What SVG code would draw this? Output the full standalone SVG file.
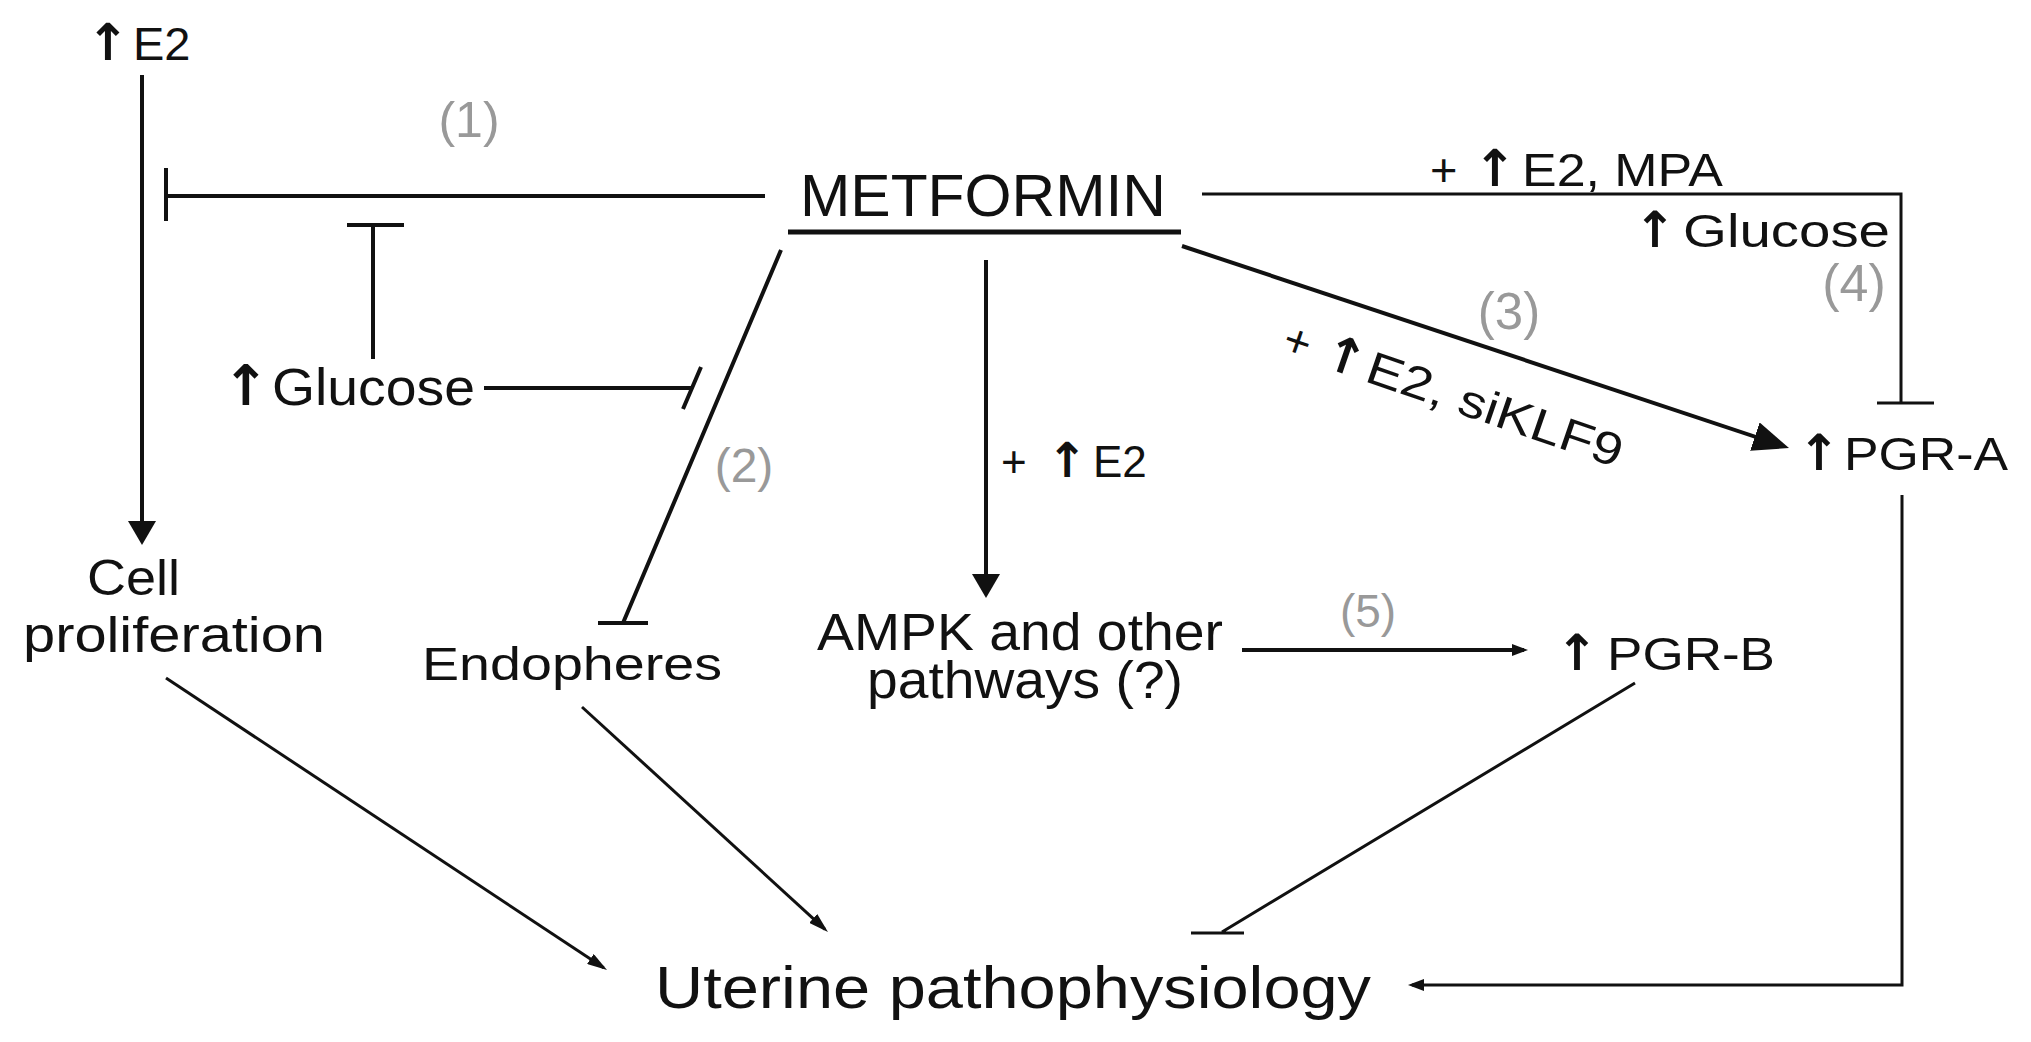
<svg xmlns="http://www.w3.org/2000/svg" width="2031" height="1042" viewBox="0 0 2031 1042">
<style>
text{font-family:"Liberation Sans",Arial,sans-serif;fill:#111}
.up{font-family:"DejaVu Sans",sans-serif;font-weight:bold;text-anchor:middle}
.num{fill:#999;text-anchor:middle}
.ln{fill:none;stroke:#111;stroke-width:4}
.th{fill:none;stroke:#111;stroke-width:3}
</style>
<defs>
<marker id="aBig" markerUnits="userSpaceOnUse" markerWidth="24" markerHeight="28" refX="18" refY="14" orient="auto"><path d="M0,0 L24,14 L0,28 z" fill="#111"/></marker>
<marker id="a3" markerUnits="userSpaceOnUse" markerWidth="36" markerHeight="30" refX="30" refY="15" orient="auto"><path d="M0,0 L36,15 L0,30 z" fill="#111"/></marker>
<marker id="aSm" markerUnits="userSpaceOnUse" markerWidth="16" markerHeight="12" refX="12" refY="6" orient="auto"><path d="M0,0 L16,6 L0,12 z" fill="#111"/></marker>
<marker id="aTh" markerUnits="userSpaceOnUse" markerWidth="20" markerHeight="12" refX="16" refY="6" orient="auto"><path d="M0,0 L20,6 L0,12 z" fill="#111"/></marker>
</defs>
<rect width="2031" height="1042" fill="#fff"/>

<g id="connectors">
<path class="ln" d="M142 75 V539" marker-end="url(#aBig)"/>
<path class="ln" d="M765 196 H166 M166 168 V221"/>
<path class="ln" d="M373 359 V225 M347 225 H404"/>
<path class="ln" d="M484 388 H692 M701 367 L683 409"/>
<path class="ln" d="M781 250 L623 623 M598 623 H648"/>
<path class="ln" d="M986 260 V592" marker-end="url(#aBig)"/>
<path class="th" d="M1202 194 H1901 V403 M1877 403 H1934"/>
<path class="ln" d="M1182 246 L1783.3 446.1" stroke-width="5" marker-end="url(#a3)"/>
<path class="th" d="M1902 495 V985 H1412" marker-end="url(#aSm)"/>
<path class="ln" d="M1242 650 H1524" marker-end="url(#aSm)"/>
<path class="th" d="M1635 683 L1222 932 M1191 933 H1244"/>
<path class="th" d="M166 678 L603.7 967.8" marker-end="url(#aTh)"/>
<path class="th" d="M582 707 L825 929.3" marker-end="url(#aTh)"/>
</g>

<g id="labels">
<text class="num" x="469" y="137" font-size="50">(1)</text>
<text class="num" x="744" y="482" font-size="48">(2)</text>
<text class="num" x="1509" y="329" font-size="51">(3)</text>
<text class="num" x="1854" y="301" font-size="52">(4)</text>
<text class="num" x="1368" y="627" font-size="46">(5)</text>
<g id="label-e2-ampk"><text font-size="44" x="1001" y="477">+</text><text class="up" font-size="48" x="1067" y="477">↑</text><text font-size="44" x="1093" y="477">E2</text></g>
<g id="label-e2-mpa"><text font-size="47" x="1430" y="186">+</text><text class="up" font-size="51" x="1495" y="186">↑</text><text font-size="47" x="1522" y="186" textLength="201" lengthAdjust="spacingAndGlyphs">E2, MPA</text></g>
<g id="label-glucose-right"><text class="up" font-size="50" x="1655" y="247">↑</text><text font-size="46" x="1683" y="247" textLength="207" lengthAdjust="spacingAndGlyphs">Glucose</text></g>
<g id="label-siklf9" transform="translate(1280 352) rotate(19)"><text font-size="46" x="0" y="0">+</text><text class="up" font-size="50" x="63" y="0">↑</text><text font-size="46" x="88" y="0" textLength="268" lengthAdjust="spacingAndGlyphs">E2, siKLF9</text></g>
</g>

<g id="node-e2"><text class="up" font-size="51" x="108" y="60">↑</text><text font-size="47" x="133" y="60">E2</text></g>
<g id="node-metformin"><text font-size="60" x="800" y="216" textLength="366" lengthAdjust="spacingAndGlyphs">METFORMIN</text><path d="M788 232 H1181" stroke="#111" stroke-width="5"/></g>
<g id="node-glucose"><text class="up" font-size="56" x="246" y="405">↑</text><text font-size="52" x="272" y="405" textLength="203" lengthAdjust="spacingAndGlyphs">Glucose</text></g>
<g id="node-cell"><text font-size="50"><tspan x="87" y="595" textLength="93" lengthAdjust="spacingAndGlyphs">Cell</tspan><tspan x="23" y="652" textLength="302" lengthAdjust="spacingAndGlyphs">proliferation</tspan></text></g>
<g id="node-endopheres"><text font-size="46" x="422" y="680" textLength="300" lengthAdjust="spacingAndGlyphs">Endopheres</text></g>
<g id="node-ampk"><text font-size="51"><tspan x="817" y="650" textLength="406" lengthAdjust="spacingAndGlyphs">AMPK and other</tspan><tspan x="867" y="698" textLength="316" lengthAdjust="spacingAndGlyphs">pathways (?)</tspan></text></g>
<g id="node-pgra"><text class="up" font-size="50" x="1819" y="470">↑</text><text font-size="46" x="1844" y="470" textLength="164" lengthAdjust="spacingAndGlyphs">PGR-A</text></g>
<g id="node-pgrb"><text class="up" font-size="50" x="1577" y="670">↑</text><text font-size="46" x="1607" y="670" textLength="168" lengthAdjust="spacingAndGlyphs">PGR-B</text></g>
<g id="node-uterine"><text font-size="60" x="655" y="1008" textLength="716" lengthAdjust="spacingAndGlyphs">Uterine pathophysiology</text></g>
</svg>
